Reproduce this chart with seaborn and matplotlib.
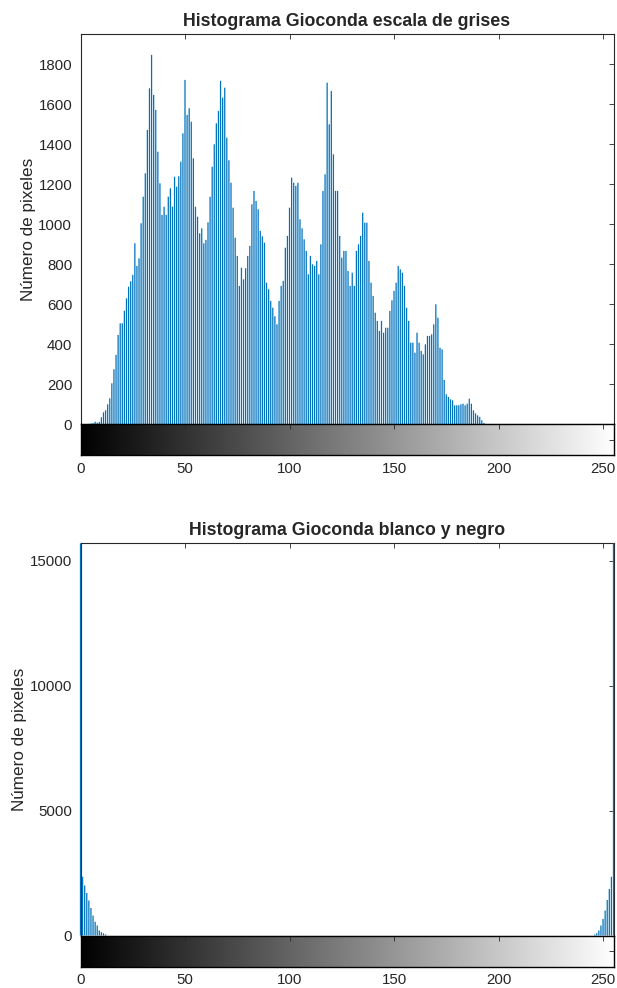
import numpy as np
import pandas as pd
import matplotlib
matplotlib.use("Agg")
import matplotlib.pyplot as plt
import seaborn as sns

# ─── Data ────────────────────────────────────────────────
# grey-level histogram, levels 0..199 (200..255 are empty)
GRAY_COUNTS = [
    0, 0, 0, 0, 2, 4, 6, 13, 8, 12,
    35, 60, 70, 100, 130, 205, 275, 347, 447, 505,
    505, 568, 630, 688, 715, 747, 905, 792, 830, 1005,
    1138, 1255, 1472, 1680, 1847, 1647, 1572, 1363, 1205, 1047,
    1088, 1047, 1138, 1180, 1088, 1238, 1188, 1240, 1313, 1455,
    1722, 1547, 1580, 1513, 1330, 1088, 1038, 955, 980, 905,
    922, 1010, 1138, 1288, 1400, 1505, 1567, 1717, 1633, 1683,
    1433, 1320, 1208, 1083, 933, 842, 692, 783, 725, 780,
    842, 892, 1100, 1167, 1117, 1075, 967, 940, 908, 708,
    675, 617, 583, 540, 500, 617, 692, 717, 883, 942,
    1083, 1233, 1208, 1192, 1208, 1025, 980, 925, 867, 750,
    842, 800, 792, 817, 750, 900, 1167, 1250, 1708, 1500,
    1667, 1350, 1167, 1167, 942, 833, 867, 867, 767, 692,
    758, 692, 867, 900, 942, 1058, 1008, 1008, 817, 708,
    642, 558, 517, 467, 517, 458, 483, 483, 567, 620,
    667, 708, 792, 775, 758, 692, 583, 517, 408, 408,
    358, 458, 408, 367, 350, 400, 442, 442, 450, 500,
    600, 533, 383, 375, 222, 150, 137, 125, 120, 95,
    95, 95, 100, 103, 95, 103, 128, 103, 70, 55,
    45, 37, 20, 7, 2, 0, 0, 0, 0, 0,
]
GRAY_LEVELS = list(range(len(GRAY_COUNTS)))

# black & white image: only the two ends of the scale are populated
BW_LEVELS = [0, 1, 2, 3, 4, 5, 6, 7, 8, 9, 10, 11, 12,
             246, 247, 248, 249, 250, 251, 252, 253, 254, 255]
BW_COUNTS = [15700, 2350, 2000, 1700, 1400, 1100, 800, 550, 400, 200, 130, 90, 40,
             40, 93, 200, 400, 665, 1000, 1420, 1860, 2350, 15700]

X_TICKS = [0, 50, 100, 150, 200, 250]
GRAY_YTICKS = [0, 200, 400, 600, 800, 1000, 1200, 1400, 1600, 1800]
BW_YTICKS = [0, 5000, 10000, 15000]
GRAY_YMAX = 1950
BW_YMAX = 15700

TITLE_GRAY = "Histograma Gioconda escala de grises"
TITLE_BW = "Histograma Gioconda blanco y negro"
YLABEL = "Número de pixeles"

BAR_COLOR = "#0072BD"
AXIS_COLOR = "#262626"

sns.set_style("white")
plt.rcParams["font.family"] = ["Liberation Sans", "DejaVu Sans"]

W, H = 617, 988


def rect(left, top, right, bottom):
    """Pixel box -> figure fraction [l, b, w, h]."""
    return [left / W, 1 - bottom / H, (right - left) / W, (bottom - top) / H]


def draw_panel(fig, hist_box, cbar_box, levels, counts, ymax, yticks, title):
    ax = fig.add_axes(rect(*hist_box))
    df = pd.DataFrame({"level": levels, "count": counts})
    sns.histplot(data=df, x="level", weights="count", bins=256,
                 binrange=(-0.5, 255.5), shrink=0.6,
                 facecolor=BAR_COLOR, edgecolor="none", linewidth=0,
                 alpha=1, zorder=3, clip_on=False, snap=False, ax=ax)
    ax.set_xlim(0, 255)
    ax.set_ylim(0, ymax)
    ax.set_xticks(X_TICKS)
    ax.set_xticklabels([])
    ax.set_yticks(yticks)
    ax.tick_params(direction="in", length=3.6, width=0.6, top=True, right=True,
                   colors=AXIS_COLOR, labelsize=10.8, pad=6)
    for sp in ax.spines.values():
        sp.set_visible(True)
        sp.set_color(AXIS_COLOR)
        sp.set_linewidth(0.8)
    ax.set_xlabel("")
    ax.set_ylabel(YLABEL, fontsize=12.3, color=AXIS_COLOR, labelpad=2)
    ax.set_title(title, fontsize=12.8, fontweight="bold", pad=6)

    # grey-scale bar under the histogram
    cax = fig.add_axes(rect(*cbar_box))
    cax.imshow(np.arange(256)[None, :], cmap="gray", vmin=0, vmax=255,
               aspect="auto", extent=(-0.5, 255.5, 0, 1))
    cax.set_xlim(0, 255)
    cax.set_ylim(0, 1)
    cax.set_xticks(X_TICKS)
    cax.set_yticks([0.5])
    cax.set_yticklabels([])
    cax.tick_params(direction="in", length=3.6, width=0.6, top=True, right=True,
                    colors=AXIS_COLOR, labelsize=10.8, pad=5)
    for sp in cax.spines.values():
        sp.set_color("black")
        sp.set_linewidth(1.0)
    return ax, cax


fig = plt.figure(figsize=(W / 100, H / 100), dpi=100)
fig.patch.set_facecolor("white")

draw_panel(fig, (80.5, 34.3, 613.5, 424.3), (80.5, 424.3, 613.5, 455),
           GRAY_LEVELS, GRAY_COUNTS, GRAY_YMAX, GRAY_YTICKS, TITLE_GRAY)
draw_panel(fig, (80.5, 543.3, 613.5, 935.5), (80.5, 935.5, 613.5, 966.5),
           BW_LEVELS, BW_COUNTS, BW_YMAX, BW_YTICKS, TITLE_BW)

fig.savefig("out.png", dpi=100)
plt.close(fig)
